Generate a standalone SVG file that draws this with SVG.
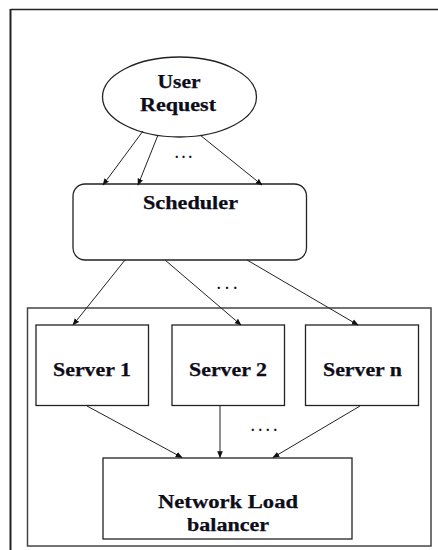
<svg xmlns="http://www.w3.org/2000/svg" width="438" height="550" viewBox="0 0 438 550">
<defs>
<marker id="ah" viewBox="0 0 10 10" refX="9" refY="5" markerWidth="7" markerHeight="7" orient="auto" markerUnits="userSpaceOnUse">
<path d="M0,1 L10,5 L0,9 z" fill="#111"/>
</marker>
</defs>
<style>
.t{font-family:"Liberation Serif","Times New Roman",serif;font-weight:bold;font-size:18px;fill:#0d0d1a;stroke:#0d0d1a;stroke-width:0.25;text-anchor:middle}
.d{font-family:"Liberation Serif","Times New Roman",serif;font-weight:bold;font-size:14px;fill:#0d0d1a}
.b{fill:#fff;stroke:#222;stroke-width:1.3}
.c line{stroke:#222;stroke-width:1;marker-end:url(#ah)}
</style>
<rect width="438" height="550" fill="#fff"/>
<g id="frame" fill="none" stroke="#222">
<line x1="10.5" y1="9.5" x2="438" y2="9.5" stroke-width="1.5"/>
<line x1="10.5" y1="9" x2="10.5" y2="550" stroke-width="2"/>
</g>
<g id="container"><rect x="27.5" y="308" width="403.5" height="238" fill="none" stroke="#444" stroke-width="1.5"/></g>
<g id="user-request"><ellipse class="b" cx="179.5" cy="97" rx="77" ry="40"/>
<text class="t" x="179" y="88" textLength="43" lengthAdjust="spacingAndGlyphs">User</text>
<text class="t" x="178" y="111" textLength="76" lengthAdjust="spacingAndGlyphs">Request</text></g>
<g id="scheduler"><rect class="b" x="73" y="184" width="233.5" height="76" rx="12"/>
<text class="t" x="190.5" y="209" textLength="95" lengthAdjust="spacingAndGlyphs">Scheduler</text></g>
<g id="server1"><rect class="b" x="36" y="325" width="112.5" height="80.5"/>
<text class="t" x="92" y="376" textLength="78" lengthAdjust="spacingAndGlyphs">Server 1</text></g>
<g id="server2"><rect class="b" x="172" y="325" width="112.5" height="80.5"/>
<text class="t" x="228" y="376" textLength="78" lengthAdjust="spacingAndGlyphs">Server 2</text></g>
<g id="servern"><rect class="b" x="305.5" y="325" width="113" height="80.5"/>
<text class="t" x="362.5" y="376" textLength="79" lengthAdjust="spacingAndGlyphs">Server n</text></g>
<g id="nlb"><rect class="b" x="103" y="458" width="249" height="81"/>
<text class="t" x="228" y="508" textLength="140" lengthAdjust="spacingAndGlyphs">Network Load</text>
<text class="t" x="228" y="531" textLength="82" lengthAdjust="spacingAndGlyphs">balancer</text></g>
<g class="c" id="connectors">
<line x1="143" y1="131" x2="103" y2="185"/>
<line x1="158" y1="135" x2="138" y2="185"/>
<line x1="200" y1="135" x2="262" y2="185"/>
<line x1="125" y1="260" x2="73" y2="325"/>
<line x1="165" y1="260" x2="241" y2="325"/>
<line x1="247" y1="260" x2="358" y2="325"/>
<line x1="87" y1="406" x2="182" y2="457.5"/>
<line x1="220" y1="406" x2="220" y2="457.5"/>
<line x1="360" y1="406" x2="273" y2="457.5"/>
</g>
<g id="dots">
<text class="d" x="175" y="158" textLength="17" lengthAdjust="spacing">...</text>
<text class="d" x="217" y="289" textLength="20" lengthAdjust="spacing">...</text>
<text class="d" x="251" y="431" textLength="26" lengthAdjust="spacing">....</text>
</g>
</svg>
